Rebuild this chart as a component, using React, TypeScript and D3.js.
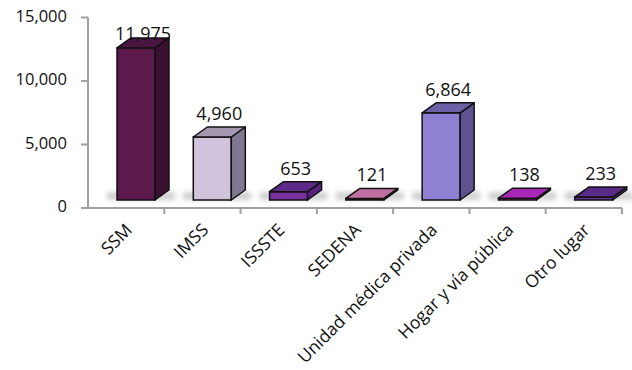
import React from "react";
import * as d3 from "d3";

const categories = [
  "SSM",
  "IMSS",
  "ISSSTE",
  "SEDENA",
  "Unidad médica privada",
  "Hogar y vía pública",
  "Otro lugar",
];
const values = [11975, 4960, 653, 121, 6864, 138, 233];
const yTicks = [0, 5000, 10000, 15000];

const frontColors = ["#5b1a4b", "#d0c4dc", "#7a2f9e", "#b0608e", "#9080d4", "#8a1c9c", "#6a3098"];
const topColors = ["#4a1540", "#a498b0", "#5e2a88", "#c070a0", "#6c5fa6", "#a826b8", "#5a2a88"];
const sideColors = ["#3a1030", "#807890", "#5a2080", "#8a4a70", "#5e5290", "#701888", "#4a2070"];

const W = 632;
const H = 370;
const FONT = "'Open Sans', 'DejaVu Sans', sans-serif";

export default function App() {
  const x = d3.scaleBand<string>().domain(categories).range([88, 622]).padding(0);
  const y = d3.scaleLinear().domain([0, 15000]).range([208, 17.5]);
  const fmt = d3.format(",");
  const lift = 8;
  const bw = 38;
  const dx = 14;
  const dy = -10;
  const off = 29;

  return (
    <svg width={W} height={H} style={{ position: "absolute", left: 0, top: 0, background: "#fff" }}>
      <defs>
        <filter id="shadow" x="-50%" y="-200%" width="200%" height="500%">
          <feGaussianBlur stdDeviation="2.5" />
        </filter>
      </defs>

      {/* y axis */}
      <line x1={88} x2={88} y1={y(15000)} y2={y(0)} stroke="#a0a0a0" strokeWidth={2} />
      {yTicks.map((t) => (
        <g key={t}>
          <line x1={81} x2={88} y1={y(t)} y2={y(t)} stroke="#a0a0a0" strokeWidth={2} />
          <text
            x={67}
            y={y(t)}
            textAnchor="end"
            dominantBaseline="middle"
            fontFamily={FONT}
            fontSize={16.5}
            fill="#111"
          >
            {fmt(t)}
          </text>
        </g>
      ))}

      {/* x axis */}
      <line x1={87} x2={622} y1={y(0)} y2={y(0)} stroke="#a0a0a0" strokeWidth={2} />
      {categories.map((c) => (
        <line key={c} x1={x(c)! + x.step()} x2={x(c)! + x.step()} y1={y(0)} y2={y(0) + 6} stroke="#a0a0a0" strokeWidth={2} />
      ))}

      {/* bars */}
      {categories.map((c, i) => {
        const fx = x(c)! + off;
        const bottom = y(0) - lift;
        const top = y(values[i]) - lift;
        const topPoly = `${fx},${top} ${fx + dx},${top + dy} ${fx + bw + dx},${top + dy} ${fx + bw},${top}`;
        const sidePoly = `${fx + bw},${top} ${fx + bw + dx},${top + dy} ${fx + bw + dx},${bottom + dy} ${fx + bw},${bottom}`;
        return (
          <g key={c}>
            <rect
              x={fx - 10}
              y={bottom - 8}
              width={bw + dx + 16}
              height={8}
              fill="#a0a0a0"
              opacity={0.5}
              filter="url(#shadow)"
            />
            <rect x={fx} y={top} width={bw} height={bottom - top} fill={frontColors[i]} stroke="#111" strokeWidth={1.5} />
            <polygon points={sidePoly} fill={sideColors[i]} stroke="#111" strokeWidth={1.5} strokeLinejoin="round" />
            <polygon points={topPoly} fill={topColors[i]} stroke="#111" strokeWidth={1.5} strokeLinejoin="round" />
            <text
              x={fx + (bw + dx) / 2}
              y={Math.max(top - 17, 40)}
              textAnchor="middle"
              fontFamily={FONT}
              fontSize={18}
              fill="#111"
            >
              {fmt(values[i])}
            </text>
          </g>
        );
      })}

      {/* category labels */}
      {categories.map((c) => {
        const cx = x(c)! + x.bandwidth() / 2 + 7;
        return (
          <text
            key={c}
            transform={`translate(${cx},${231}) rotate(-45)`}
            textAnchor="end"
            fontFamily={FONT}
            fontSize={17.5}
            fill="#111"
          >
            {c}
          </text>
        );
      })}
    </svg>
  );
}
